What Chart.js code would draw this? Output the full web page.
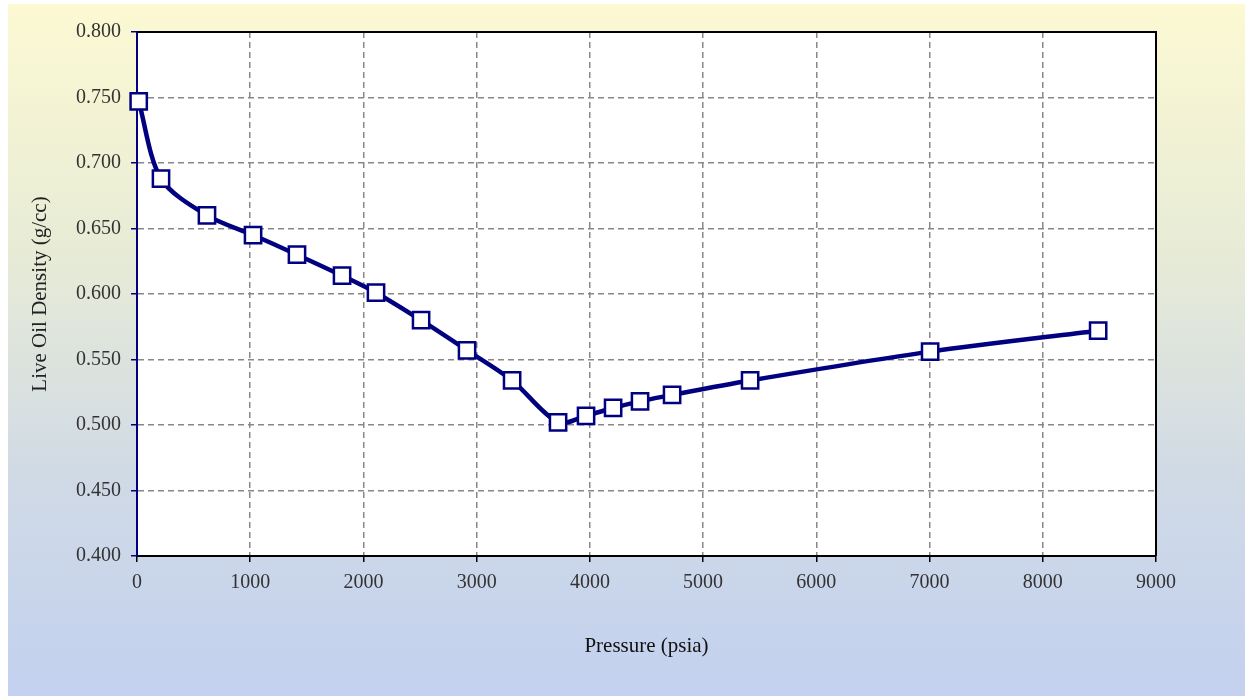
<!DOCTYPE html>
<html>
<head>
<meta charset="utf-8">
<script src="https://cdn.jsdelivr.net/npm/chart.js@4"></script>
<style>
html,body{margin:0;padding:0;background:#fff;}
#wrap{width:1245px;height:696px;position:relative;}
</style>
</head>
<body>
<div id="wrap"><canvas id="c" width="1245" height="696"></canvas></div>
<script>
const pressure = [15, 212, 618, 1025, 1413, 1811, 2111, 2509, 2915, 3313, 3719, 3966, 4205, 4443, 4726, 5415, 7005, 8489];
const density  = [0.747, 0.688, 0.660, 0.645, 0.630, 0.614, 0.601, 0.580, 0.557, 0.534, 0.502, 0.507, 0.513, 0.518, 0.523, 0.534, 0.556, 0.572];
const xTitle = 'Pressure (psia)';
const yTitle = 'Live Oil Density (g/cc)';

const points = pressure.map((p, i) => ({x: p, y: density[i]}));

const bgPlugin = {
  id: 'bg',
  beforeDraw(chart) {
    const ctx = chart.ctx;
    const W = chart.width, H = chart.height;
    ctx.save();
    ctx.fillStyle = '#ffffff';
    ctx.fillRect(0, 0, W, H);
    const g = ctx.createLinearGradient(0, 4, 0, H);
    g.addColorStop(0, '#fcf9d3');
    g.addColorStop(0.35, '#e8ecd6');
    g.addColorStop(0.7, '#cfd9e6');
    g.addColorStop(1, '#c3d1ef');
    ctx.fillStyle = g;
    ctx.fillRect(8, 4, W - 8, H - 4);
    const a = chart.chartArea;
    ctx.fillStyle = '#ffffff';
    ctx.fillRect(a.left, a.top, a.right - a.left, a.bottom - a.top);
    ctx.restore();
  },
  beforeDatasetsDraw(chart) {
    const ctx = chart.ctx, a = chart.chartArea;
    ctx.save();
    ctx.strokeStyle = '#000000';
    ctx.lineWidth = 2;
    ctx.beginPath();
    ctx.moveTo(a.left, a.top);
    ctx.lineTo(a.right, a.top);
    ctx.lineTo(a.right, a.bottom);
    ctx.stroke();
    ctx.restore();
  }
};

new Chart(document.getElementById('c'), {
  type: 'line',
  data: {
    datasets: [{
      data: points,
      borderColor: '#000080',
      borderWidth: 4.5,
      tension: 0.3,
      clip: false,
      pointStyle: 'rect',
      pointRadius: 11.5,
      pointBackgroundColor: '#ffffff',
      pointBorderColor: '#000080',
      pointBorderWidth: 2.5,
      fill: false
    }]
  },
  options: {
    responsive: false,
    animation: false,
    plugins: { legend: { display: false }, tooltip: { enabled: false } },
    layout: { padding: { left: 24, right: 89, top: 32, bottom: 33 } },
    scales: {
      x: {
        type: 'linear',
        min: 0, max: 9000,
        ticks: { stepSize: 1000, color: '#333', font: { family: 'Liberation Serif', size: 20 }, padding: 9,
                 callback: v => String(v) },
        grid: { color: '#888888', lineWidth: 1.5, tickLength: 6, tickColor: '#000', drawTicks: true },
        border: { display: true, color: '#000000', width: 2, dash: [6, 4] },
        title: { display: true, text: xTitle, color: '#111', font: { family: 'Liberation Serif', size: 21 }, padding: { top: 4, bottom: 4 } },
        afterFit(s) { s.height = 107; }
      },
      y: {
        min: 0.4, max: 0.8,
        ticks: { stepSize: 0.05, color: '#333', font: { family: 'Liberation Serif', size: 20 }, padding: 10,
                 callback: v => v.toFixed(3) },
        grid: { color: '#888888', lineWidth: 1.5, tickLength: 6, tickColor: '#000080' },
        border: { display: true, color: '#000080', width: 2, dash: [6, 4] },
        title: { display: true, text: yTitle, color: '#222', font: { family: 'Liberation Serif', size: 21 }, padding: { top: 4, bottom: 4 } },
        afterFit(s) { s.width = 113; }
      }
    }
  },
  plugins: [bgPlugin]
});
</script>
</body>
</html>
